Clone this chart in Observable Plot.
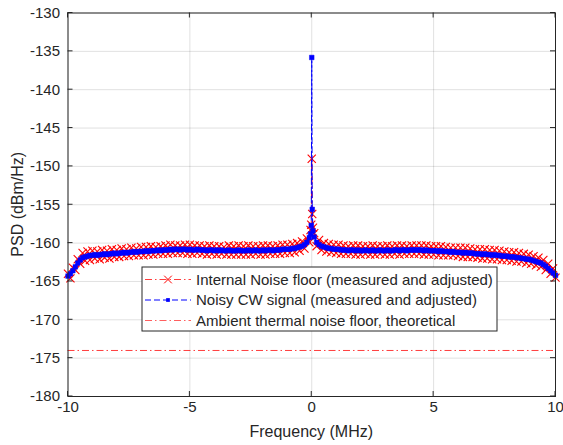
<!DOCTYPE html>
<html>
<head>
<meta charset="utf-8">
<script src="https://cdn.jsdelivr.net/npm/d3@7"></script>
<script src="https://cdn.jsdelivr.net/npm/@observablehq/plot@0.6"></script>
<style>
  html, body { margin: 0; padding: 0; background: #fff; }
  #chart { width: 563px; height: 445px; }
</style>
</head>
<body>
<div id="chart"></div>
<script>
// ---- Data ----
const freqMHz = [
  -10,-9.9,-9.8,-9.7,-9.6,-9.5,-9.4,-9.3,-9.2,-9.1,
  -9,-8.9,-8.8,-8.7,-8.6,-8.5,-8.4,-8.3,-8.2,-8.1,
  -8,-7.9,-7.8,-7.7,-7.6,-7.5,-7.4,-7.3,-7.2,-7.1,
  -7,-6.9,-6.8,-6.7,-6.6,-6.5,-6.4,-6.3,-6.2,-6.1,
  -6,-5.9,-5.8,-5.7,-5.6,-5.5,-5.4,-5.3,-5.2,-5.1,
  -5,-4.9,-4.8,-4.7,-4.6,-4.5,-4.4,-4.3,-4.2,-4.1,
  -4,-3.9,-3.8,-3.7,-3.6,-3.5,-3.4,-3.3,-3.2,-3.1,
  -3,-2.9,-2.8,-2.7,-2.6,-2.5,-2.4,-2.3,-2.2,-2.1,
  -2,-1.9,-1.8,-1.7,-1.6,-1.5,-1.4,-1.3,-1.2,-1.1,
  -1,-0.9,-0.8,-0.7,-0.6,-0.5,-0.4,-0.3,-0.2,-0.1,
  -0.05,-0.02,0,0.02,0.05,
  0.1,0.2,0.3,0.4,0.5,0.6,0.7,0.8,0.9,1,
  1.1,1.2,1.3,1.4,1.5,1.6,1.7,1.8,1.9,2,
  2.1,2.2,2.3,2.4,2.5,2.6,2.7,2.8,2.9,3,
  3.1,3.2,3.3,3.4,3.5,3.6,3.7,3.8,3.9,4,
  4.1,4.2,4.3,4.4,4.5,4.6,4.7,4.8,4.9,5,
  5.1,5.2,5.3,5.4,5.5,5.6,5.7,5.8,5.9,6,
  6.1,6.2,6.3,6.4,6.5,6.6,6.7,6.8,6.9,7,
  7.1,7.2,7.3,7.4,7.5,7.6,7.7,7.8,7.9,8,
  8.1,8.2,8.3,8.4,8.5,8.6,8.7,8.8,8.9,9,
  9.1,9.2,9.3,9.4,9.5,9.6,9.7,9.8,9.9,10
];

// Internal noise floor (measured and adjusted), dBm/Hz
const internalNoise = [
  -164.0,-164.6,-163.2,-163.5,-162.1,-162.7,-161.3,-162.3,-161.1,-162.2,
  -161.0,-162.0,-161.1,-162.1,-160.9,-161.9,-161.0,-162.0,-160.8,-161.8,
  -160.9,-161.8,-160.7,-161.7,-160.8,-161.7,-160.6,-161.6,-160.7,-161.6,
  -160.5,-161.6,-160.5,-161.5,-160.4,-161.5,-160.5,-161.4,-160.4,-161.4,
  -160.3,-161.4,-160.2,-161.3,-160.3,-161.3,-160.3,-161.3,-160.2,-161.4,
  -160.2,-161.4,-160.3,-161.3,-160.3,-161.4,-160.4,-161.5,-160.3,-161.4,
  -160.4,-161.5,-160.4,-161.4,-160.5,-161.5,-160.3,-161.5,-160.4,-161.5,
  -160.3,-161.5,-160.4,-161.5,-160.3,-161.5,-160.4,-161.4,-160.4,-161.5,
  -160.3,-161.5,-160.3,-161.4,-160.4,-161.4,-160.3,-161.4,-160.2,-161.3,
  -160.2,-161.3,-160.1,-161.2,-160.0,-161.0,-159.8,-160.7,-159.4,-159.9,
  -158.3,-157.6,-149.0,-156.2,-158.0,
  -158.7,-160.4,-159.6,-160.9,-160.0,-161.1,-160.1,-161.2,-160.2,-161.3,
  -160.2,-161.4,-160.3,-161.4,-160.4,-161.4,-160.3,-161.5,-160.3,-161.5,
  -160.4,-161.4,-160.4,-161.5,-160.3,-161.5,-160.4,-161.4,-160.4,-161.5,
  -160.3,-161.5,-160.4,-161.4,-160.3,-161.5,-160.3,-161.4,-160.4,-161.4,
  -160.3,-161.4,-160.3,-161.4,-160.3,-161.5,-160.3,-161.5,-160.4,-161.5,
  -160.4,-161.6,-160.4,-161.6,-160.5,-161.6,-160.6,-161.6,-160.6,-161.7,
  -160.6,-161.8,-160.6,-161.8,-160.7,-161.8,-160.8,-161.9,-160.8,-162.0,
  -160.8,-162.0,-160.9,-162.1,-160.9,-162.1,-161.0,-162.2,-161.1,-162.2,
  -161.2,-162.3,-161.2,-162.4,-161.3,-162.4,-161.4,-162.6,-161.5,-162.7,
  -161.7,-162.9,-161.9,-163.1,-162.2,-163.5,-162.7,-164.0,-163.3,-164.5
];

// Noisy CW signal (measured and adjusted), dBm/Hz
const cwSignal = [
  -164.3,-164.0,-163.6,-163.1,-162.6,-162.2,-161.9,-161.8,-161.7,-161.6,
  -161.6,-161.5,-161.6,-161.5,-161.5,-161.4,-161.5,-161.4,-161.4,-161.3,
  -161.4,-161.3,-161.3,-161.2,-161.3,-161.2,-161.2,-161.1,-161.2,-161.1,
  -161.1,-161.1,-161.0,-161.1,-161.0,-161.0,-161.0,-160.9,-161.0,-160.9,
  -160.9,-160.9,-160.8,-160.9,-160.8,-160.8,-160.9,-160.8,-160.8,-160.9,
  -160.8,-160.9,-160.9,-160.8,-160.9,-160.9,-160.9,-161.0,-160.9,-160.9,
  -161.0,-160.9,-161.0,-160.9,-161.0,-161.0,-160.9,-161.0,-161.0,-161.0,
  -160.9,-161.0,-161.0,-161.0,-160.9,-161.0,-161.0,-160.9,-161.0,-161.0,
  -160.9,-161.0,-160.9,-160.9,-161.0,-160.9,-160.9,-160.9,-160.8,-160.8,
  -160.8,-160.8,-160.7,-160.7,-160.6,-160.5,-160.4,-160.2,-159.9,-159.3,
  -158.8,-157.7,-135.8,-155.6,-158.4,
  -159.2,-159.9,-160.2,-160.4,-160.5,-160.6,-160.7,-160.7,-160.8,-160.8,
  -160.8,-160.9,-160.9,-160.9,-161.0,-160.9,-160.9,-161.0,-160.9,-161.0,
  -161.0,-160.9,-161.0,-161.0,-160.9,-161.0,-161.0,-160.9,-161.0,-161.0,
  -160.9,-161.0,-161.0,-160.9,-160.9,-161.0,-160.9,-160.9,-161.0,-160.9,
  -160.9,-160.9,-160.9,-160.9,-160.9,-161.0,-160.9,-161.0,-161.0,-161.0,
  -161.0,-161.1,-161.0,-161.1,-161.1,-161.1,-161.2,-161.1,-161.2,-161.2,
  -161.2,-161.3,-161.2,-161.3,-161.3,-161.3,-161.4,-161.4,-161.4,-161.5,
  -161.4,-161.5,-161.5,-161.6,-161.5,-161.6,-161.6,-161.7,-161.7,-161.7,
  -161.8,-161.8,-161.8,-161.9,-161.9,-162.0,-162.0,-162.1,-162.1,-162.2,
  -162.3,-162.4,-162.5,-162.6,-162.8,-163.0,-163.3,-163.6,-163.9,-164.2
];

// Ambient thermal noise floor, theoretical (dBm/Hz)
const ambientFloor = [-174];

const xTicks = [-10, -5, 0, 5, 10];
const yTicks = [-180, -175, -170, -165, -160, -155, -150, -145, -140, -135, -130];
const seriesNames = [
  "Internal Noise floor (measured and adjusted)",
  "Noisy CW signal (measured and adjusted)",
  "Ambient thermal noise floor, theoretical"
];
const xLabel = "Frequency (MHz)";
const yLabel = "PSD (dBm/Hz)";

// ---- Build table ----
const rows = freqMHz.map((f, i) => ({f, internal: internalNoise[i], cw: cwSignal[i]}));

const RED = "#ff0000";
const BLUE = "#0000ff";
const INK = "#262626";
const DASHDOT = "7,3,1.5,3";
const FONT = "'Liberation Sans', Arial, Helvetica, sans-serif";

const W = 563, H = 445;
const mL = 67.5, mR = 8, mT = 12.5, mB = 49;

const plot = Plot.plot({
  width: W, height: H,
  marginLeft: mL, marginRight: mR, marginTop: mT, marginBottom: mB,
  style: {fontFamily: FONT, fontSize: "15px", color: INK, background: "#fff"},
  x: {domain: [-10, 10]},
  y: {domain: [-180, -130]},
  marks: [
    Plot.gridX(xTicks, {stroke: "#000", strokeOpacity: 0.12, strokeWidth: 1}),
    Plot.gridY(yTicks, {stroke: "#000", strokeOpacity: 0.12, strokeWidth: 1}),
    Plot.ruleY(ambientFloor, {stroke: RED, strokeWidth: 0.9, strokeDasharray: DASHDOT, strokeOpacity: 0.85}),
    Plot.line(rows, {x: "f", y: "internal", stroke: RED, strokeWidth: 0.9, strokeDasharray: DASHDOT}),
    Plot.dot(rows, {x: "f", y: "internal", symbol: "times", r: 3.8, stroke: RED, strokeWidth: 1.1}),
    Plot.line(rows, {x: "f", y: "cw", stroke: BLUE, strokeWidth: 1, strokeDasharray: "6,3"}),
    Plot.dot(rows, {x: "f", y: "cw", symbol: "square", r: 2.6, fill: BLUE, stroke: BLUE, strokeWidth: 0.5}),
    Plot.frame({stroke: INK, strokeWidth: 1}),
    Plot.axisX(xTicks, {tickSize: 0, tickPadding: 5, tickFormat: d => String(d), label: null, fill: INK, fontSize: 15}),
    Plot.axisY(yTicks, {tickSize: 0, tickPadding: 8, tickFormat: d => String(d), label: null, fill: INK, fontSize: 15})
  ]
});

document.getElementById("chart").appendChild(plot);

// ---- Inward ticks, axis titles, legend (MATLAB style) ----
const svg = d3.select(plot);
const xs = plot.scale("x"), ys = plot.scale("y");
const x0 = mL, x1 = W - mR, y0 = mT, y1 = H - mB;
const TL = 5;
const tg = svg.append("g").attr("stroke", INK).attr("stroke-width", 1);
xTicks.forEach(t => {
  const px = xs.apply(t);
  tg.append("line").attr("x1", px).attr("x2", px).attr("y1", y1).attr("y2", y1 - TL);
  tg.append("line").attr("x1", px).attr("x2", px).attr("y1", y0).attr("y2", y0 + TL);
});
yTicks.forEach(t => {
  const py = ys.apply(t);
  tg.append("line").attr("y1", py).attr("y2", py).attr("x1", x0).attr("x2", x0 + TL);
  tg.append("line").attr("y1", py).attr("y2", py).attr("x1", x1).attr("x2", x1 - TL);
});

svg.append("text")
  .attr("x", (x0 + x1) / 2).attr("y", 437)
  .attr("text-anchor", "middle")
  .attr("fill", INK).style("font-size", "16px").style("font-family", FONT)
  .text(xLabel);
svg.append("text")
  .attr("transform", `translate(23,${(y0 + y1) / 2}) rotate(-90)`)
  .attr("text-anchor", "middle")
  .attr("fill", INK).style("font-size", "16px").style("font-family", FONT)
  .text(yLabel);

// Legend
const lg = svg.append("g").attr("text-anchor", "start");
lg.append("rect").attr("x", 142).attr("y", 267).attr("width", 355).attr("height", 64)
  .attr("fill", "#fff").attr("stroke", INK).attr("stroke-width", 1);
const rowY = [279.5, 300, 320.5];
const sx0 = 145, sx1 = 191, sxm = 168;
// row 1
lg.append("line").attr("x1", sx0).attr("x2", sx1).attr("y1", rowY[0]).attr("y2", rowY[0])
  .attr("stroke", RED).attr("stroke-width", 0.9).attr("stroke-dasharray", DASHDOT).attr("stroke-opacity", 0.85);
lg.append("path").attr("d", d3.symbol(d3.symbolTimes, 40)())
  .attr("transform", `translate(${sxm},${rowY[0]})`)
  .attr("fill", "none").attr("stroke", RED).attr("stroke-width", 1);
// row 2
lg.append("line").attr("x1", sx0).attr("x2", sx1).attr("y1", rowY[1]).attr("y2", rowY[1])
  .attr("stroke", BLUE).attr("stroke-width", 1).attr("stroke-dasharray", "6,3");
lg.append("path").attr("d", d3.symbol(d3.symbolSquare, 14)())
  .attr("transform", `translate(${sxm},${rowY[1]})`)
  .attr("fill", BLUE);
// row 3
lg.append("line").attr("x1", sx0).attr("x2", sx1).attr("y1", rowY[2]).attr("y2", rowY[2])
  .attr("stroke", RED).attr("stroke-width", 0.9).attr("stroke-dasharray", DASHDOT).attr("stroke-opacity", 0.7);
seriesNames.forEach((name, i) => {
  lg.append("text").attr("x", 196).attr("y", rowY[i]).attr("dy", "0.35em")
    .attr("text-anchor", "start")
    .attr("fill", INK).style("font-size", "15px")
    .style("font-family", FONT)
    .text(name);
});
</script>
</body>
</html>
